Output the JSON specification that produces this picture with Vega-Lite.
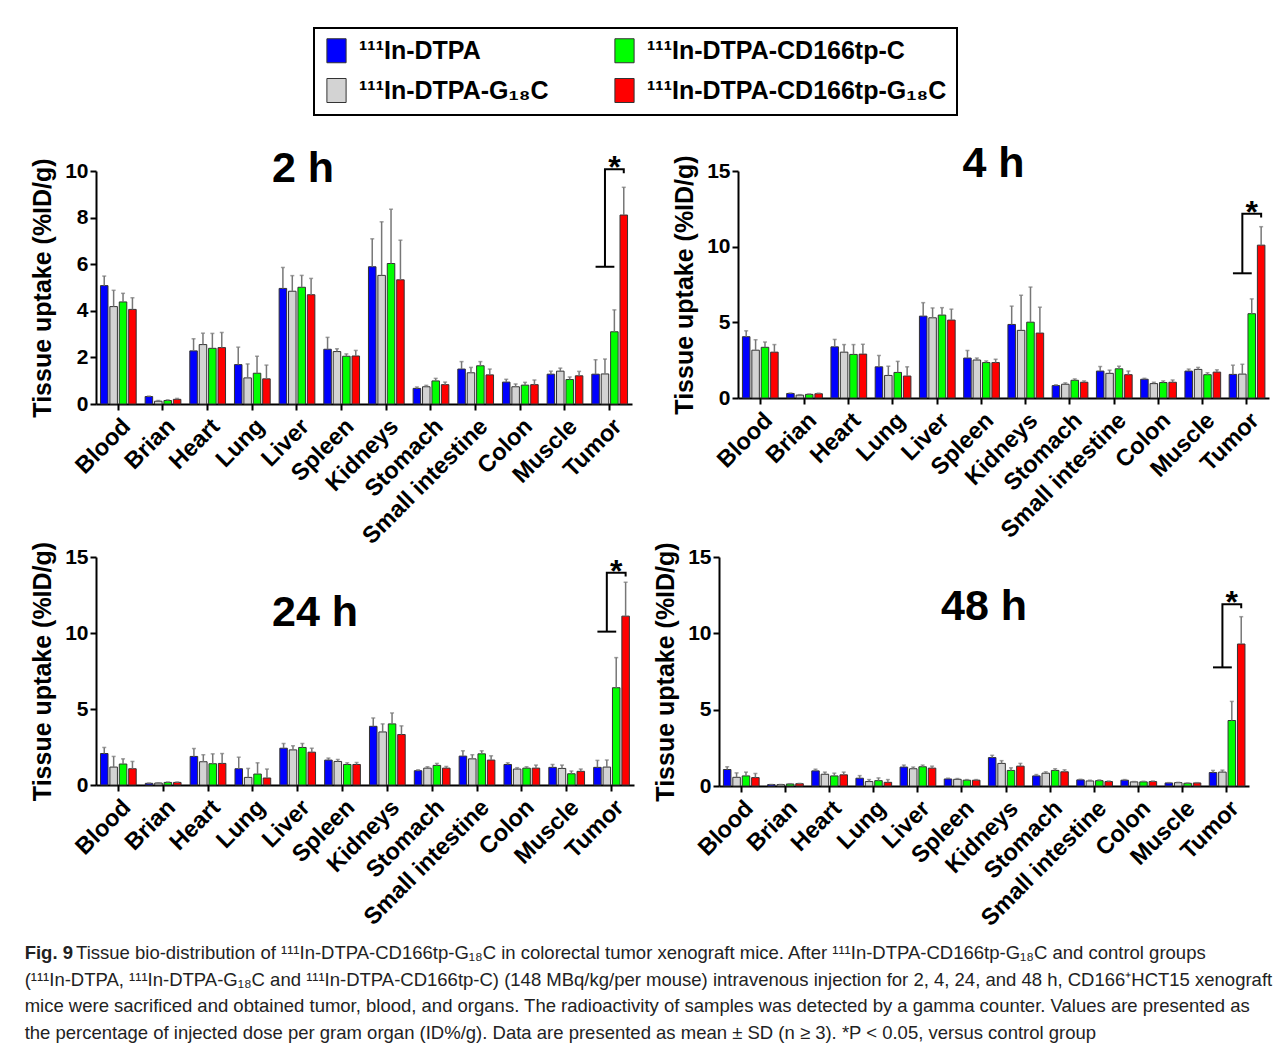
{
  "$schema": "https://vega.github.io/schema/vega-lite/v6.json",
  "padding": {"left": 24, "top": 27, "right": 5, "bottom": 5},
  "background": "white",
  "bounds": "flush",
  "spacing": 386,
  "title": {
    "text": "Fig. 9",
    "subtitle": [
      "\u200b\u00a0\u00a0\u00a0\u00a0\u00a0\u00a0\u00a0\u00a0\u00a0\u00a0Tissue bio-distribution of ¹¹¹In-DTPA-CD166tp-G₁₈C in colorectal tumor xenograft mice. After ¹¹¹In-DTPA-CD166tp-G₁₈C and control groups",
      "(¹¹¹In-DTPA, ¹¹¹In-DTPA-G₁₈C and ¹¹¹In-DTPA-CD166tp-C) (148 MBq/kg/per mouse) intravenous injection for 2, 4, 24, and 48 h, CD166⁺HCT15 xenograft",
      "mice were sacrificed and obtained tumor, blood, and organs. The radioactivity of samples was detected by a gamma counter. Values are presented as",
      "the percentage of injected dose per gram organ (ID%/g). Data are presented as mean ± SD (n ≥ 3). *P < 0.05, versus control group"
    ],
    "orient": "bottom",
    "anchor": "start",
    "frame": "bounds",
    "offset": 14,
    "dx": -6,
    "font": "Liberation Sans",
    "fontSize": 18.5,
    "fontWeight": "bold",
    "color": "#222222",
    "subtitleFont": "Liberation Sans",
    "subtitleFontSize": 18.5,
    "subtitleFontWeight": "normal",
    "subtitleColor": "#222222",
    "subtitleLineHeight": 26.7,
    "subtitlePadding": -18.5
  },
  "datasets": {
    "uptake": [
      {"time":"2 h","organ":"Blood","group":"¹¹¹In-DTPA","mean":5.08,"upper":5.49},
      {"time":"2 h","organ":"Blood","group":"¹¹¹In-DTPA-G₁₈C","mean":4.18,"upper":4.88},
      {"time":"2 h","organ":"Blood","group":"¹¹¹In-DTPA-CD166tp-C","mean":4.38,"upper":4.75},
      {"time":"2 h","organ":"Blood","group":"¹¹¹In-DTPA-CD166tp-G₁₈C","mean":4.06,"upper":4.56},
      {"time":"2 h","organ":"Brian","group":"¹¹¹In-DTPA","mean":0.32,"upper":0.34},
      {"time":"2 h","organ":"Brian","group":"¹¹¹In-DTPA-G₁₈C","mean":0.12,"upper":0.15},
      {"time":"2 h","organ":"Brian","group":"¹¹¹In-DTPA-CD166tp-C","mean":0.15,"upper":0.18},
      {"time":"2 h","organ":"Brian","group":"¹¹¹In-DTPA-CD166tp-G₁₈C","mean":0.2,"upper":0.24},
      {"time":"2 h","organ":"Heart","group":"¹¹¹In-DTPA","mean":2.28,"upper":2.8},
      {"time":"2 h","organ":"Heart","group":"¹¹¹In-DTPA-G₁₈C","mean":2.55,"upper":3.04},
      {"time":"2 h","organ":"Heart","group":"¹¹¹In-DTPA-CD166tp-C","mean":2.39,"upper":3.03},
      {"time":"2 h","organ":"Heart","group":"¹¹¹In-DTPA-CD166tp-G₁₈C","mean":2.42,"upper":3.07},
      {"time":"2 h","organ":"Lung","group":"¹¹¹In-DTPA","mean":1.69,"upper":2.44},
      {"time":"2 h","organ":"Lung","group":"¹¹¹In-DTPA-G₁₈C","mean":1.12,"upper":1.72},
      {"time":"2 h","organ":"Lung","group":"¹¹¹In-DTPA-CD166tp-C","mean":1.32,"upper":2.05},
      {"time":"2 h","organ":"Lung","group":"¹¹¹In-DTPA-CD166tp-G₁₈C","mean":1.08,"upper":1.67},
      {"time":"2 h","organ":"Liver","group":"¹¹¹In-DTPA","mean":4.96,"upper":5.86},
      {"time":"2 h","organ":"Liver","group":"¹¹¹In-DTPA-G₁₈C","mean":4.84,"upper":5.51},
      {"time":"2 h","organ":"Liver","group":"¹¹¹In-DTPA-CD166tp-C","mean":5.01,"upper":5.52},
      {"time":"2 h","organ":"Liver","group":"¹¹¹In-DTPA-CD166tp-G₁₈C","mean":4.69,"upper":5.39},
      {"time":"2 h","organ":"Spleen","group":"¹¹¹In-DTPA","mean":2.35,"upper":2.86},
      {"time":"2 h","organ":"Spleen","group":"¹¹¹In-DTPA-G₁₈C","mean":2.25,"upper":2.37},
      {"time":"2 h","organ":"Spleen","group":"¹¹¹In-DTPA-CD166tp-C","mean":2.05,"upper":2.15},
      {"time":"2 h","organ":"Spleen","group":"¹¹¹In-DTPA-CD166tp-G₁₈C","mean":2.06,"upper":2.3},
      {"time":"2 h","organ":"Kidneys","group":"¹¹¹In-DTPA","mean":5.89,"upper":7.09},
      {"time":"2 h","organ":"Kidneys","group":"¹¹¹In-DTPA-G₁₈C","mean":5.52,"upper":7.82},
      {"time":"2 h","organ":"Kidneys","group":"¹¹¹In-DTPA-CD166tp-C","mean":6.03,"upper":8.36},
      {"time":"2 h","organ":"Kidneys","group":"¹¹¹In-DTPA-CD166tp-G₁₈C","mean":5.33,"upper":7.03},
      {"time":"2 h","organ":"Stomach","group":"¹¹¹In-DTPA","mean":0.67,"upper":0.73},
      {"time":"2 h","organ":"Stomach","group":"¹¹¹In-DTPA-G₁₈C","mean":0.74,"upper":0.8},
      {"time":"2 h","organ":"Stomach","group":"¹¹¹In-DTPA-CD166tp-C","mean":0.99,"upper":1.1},
      {"time":"2 h","organ":"Stomach","group":"¹¹¹In-DTPA-CD166tp-G₁₈C","mean":0.83,"upper":0.94},
      {"time":"2 h","organ":"Small intestine","group":"¹¹¹In-DTPA","mean":1.5,"upper":1.82},
      {"time":"2 h","organ":"Small intestine","group":"¹¹¹In-DTPA-G₁₈C","mean":1.34,"upper":1.57},
      {"time":"2 h","organ":"Small intestine","group":"¹¹¹In-DTPA-CD166tp-C","mean":1.64,"upper":1.82},
      {"time":"2 h","organ":"Small intestine","group":"¹¹¹In-DTPA-CD166tp-G₁₈C","mean":1.25,"upper":1.5},
      {"time":"2 h","organ":"Colon","group":"¹¹¹In-DTPA","mean":0.94,"upper":1.06},
      {"time":"2 h","organ":"Colon","group":"¹¹¹In-DTPA-G₁₈C","mean":0.74,"upper":0.86},
      {"time":"2 h","organ":"Colon","group":"¹¹¹In-DTPA-CD166tp-C","mean":0.81,"upper":0.93},
      {"time":"2 h","organ":"Colon","group":"¹¹¹In-DTPA-CD166tp-G₁₈C","mean":0.83,"upper":1.03},
      {"time":"2 h","organ":"Muscle","group":"¹¹¹In-DTPA","mean":1.28,"upper":1.41},
      {"time":"2 h","organ":"Muscle","group":"¹¹¹In-DTPA-G₁₈C","mean":1.41,"upper":1.54},
      {"time":"2 h","organ":"Muscle","group":"¹¹¹In-DTPA-CD166tp-C","mean":1.05,"upper":1.16},
      {"time":"2 h","organ":"Muscle","group":"¹¹¹In-DTPA-CD166tp-G₁₈C","mean":1.21,"upper":1.4},
      {"time":"2 h","organ":"Tumor","group":"¹¹¹In-DTPA","mean":1.28,"upper":1.9},
      {"time":"2 h","organ":"Tumor","group":"¹¹¹In-DTPA-G₁₈C","mean":1.29,"upper":1.93},
      {"time":"2 h","organ":"Tumor","group":"¹¹¹In-DTPA-CD166tp-C","mean":3.1,"upper":4.04},
      {"time":"2 h","organ":"Tumor","group":"¹¹¹In-DTPA-CD166tp-G₁₈C","mean":8.11,"upper":9.3},

      {"time":"4 h","organ":"Blood","group":"¹¹¹In-DTPA","mean":4.05,"upper":4.44},
      {"time":"4 h","organ":"Blood","group":"¹¹¹In-DTPA-G₁₈C","mean":3.16,"upper":3.85},
      {"time":"4 h","organ":"Blood","group":"¹¹¹In-DTPA-CD166tp-C","mean":3.35,"upper":3.7},
      {"time":"4 h","organ":"Blood","group":"¹¹¹In-DTPA-CD166tp-G₁₈C","mean":3.03,"upper":3.53},
      {"time":"4 h","organ":"Brian","group":"¹¹¹In-DTPA","mean":0.3,"upper":0.33},
      {"time":"4 h","organ":"Brian","group":"¹¹¹In-DTPA-G₁₈C","mean":0.19,"upper":0.22},
      {"time":"4 h","organ":"Brian","group":"¹¹¹In-DTPA-CD166tp-C","mean":0.24,"upper":0.27},
      {"time":"4 h","organ":"Brian","group":"¹¹¹In-DTPA-CD166tp-G₁₈C","mean":0.28,"upper":0.32},
      {"time":"4 h","organ":"Heart","group":"¹¹¹In-DTPA","mean":3.38,"upper":3.87},
      {"time":"4 h","organ":"Heart","group":"¹¹¹In-DTPA-G₁₈C","mean":3.03,"upper":3.53},
      {"time":"4 h","organ":"Heart","group":"¹¹¹In-DTPA-CD166tp-C","mean":2.88,"upper":3.53},
      {"time":"4 h","organ":"Heart","group":"¹¹¹In-DTPA-CD166tp-G₁₈C","mean":2.9,"upper":3.55},
      {"time":"4 h","organ":"Lung","group":"¹¹¹In-DTPA","mean":2.06,"upper":2.81},
      {"time":"4 h","organ":"Lung","group":"¹¹¹In-DTPA-G₁₈C","mean":1.49,"upper":2.1},
      {"time":"4 h","organ":"Lung","group":"¹¹¹In-DTPA-CD166tp-C","mean":1.69,"upper":2.42},
      {"time":"4 h","organ":"Lung","group":"¹¹¹In-DTPA-CD166tp-G₁₈C","mean":1.45,"upper":2.06},
      {"time":"4 h","organ":"Liver","group":"¹¹¹In-DTPA","mean":5.41,"upper":6.3},
      {"time":"4 h","organ":"Liver","group":"¹¹¹In-DTPA-G₁₈C","mean":5.3,"upper":5.95},
      {"time":"4 h","organ":"Liver","group":"¹¹¹In-DTPA-CD166tp-C","mean":5.48,"upper":5.97},
      {"time":"4 h","organ":"Liver","group":"¹¹¹In-DTPA-CD166tp-G₁₈C","mean":5.15,"upper":5.87},
      {"time":"4 h","organ":"Spleen","group":"¹¹¹In-DTPA","mean":2.64,"upper":3.14},
      {"time":"4 h","organ":"Spleen","group":"¹¹¹In-DTPA-G₁₈C","mean":2.51,"upper":2.64},
      {"time":"4 h","organ":"Spleen","group":"¹¹¹In-DTPA-CD166tp-C","mean":2.34,"upper":2.45},
      {"time":"4 h","organ":"Spleen","group":"¹¹¹In-DTPA-CD166tp-G₁₈C","mean":2.34,"upper":2.56},
      {"time":"4 h","organ":"Kidneys","group":"¹¹¹In-DTPA","mean":4.86,"upper":6.07},
      {"time":"4 h","organ":"Kidneys","group":"¹¹¹In-DTPA-G₁₈C","mean":4.47,"upper":6.79},
      {"time":"4 h","organ":"Kidneys","group":"¹¹¹In-DTPA-CD166tp-C","mean":5.01,"upper":7.33},
      {"time":"4 h","organ":"Kidneys","group":"¹¹¹In-DTPA-CD166tp-G₁₈C","mean":4.29,"upper":6.0},
      {"time":"4 h","organ":"Stomach","group":"¹¹¹In-DTPA","mean":0.82,"upper":0.87},
      {"time":"4 h","organ":"Stomach","group":"¹¹¹In-DTPA-G₁₈C","mean":0.91,"upper":1.0},
      {"time":"4 h","organ":"Stomach","group":"¹¹¹In-DTPA-CD166tp-C","mean":1.17,"upper":1.26},
      {"time":"4 h","organ":"Stomach","group":"¹¹¹In-DTPA-CD166tp-G₁₈C","mean":1.04,"upper":1.13},
      {"time":"4 h","organ":"Small intestine","group":"¹¹¹In-DTPA","mean":1.78,"upper":2.08},
      {"time":"4 h","organ":"Small intestine","group":"¹¹¹In-DTPA-G₁₈C","mean":1.63,"upper":1.84},
      {"time":"4 h","organ":"Small intestine","group":"¹¹¹In-DTPA-CD166tp-C","mean":1.93,"upper":2.1},
      {"time":"4 h","organ":"Small intestine","group":"¹¹¹In-DTPA-CD166tp-G₁₈C","mean":1.54,"upper":1.78},
      {"time":"4 h","organ":"Colon","group":"¹¹¹In-DTPA","mean":1.24,"upper":1.3},
      {"time":"4 h","organ":"Colon","group":"¹¹¹In-DTPA-G₁₈C","mean":0.95,"upper":1.04},
      {"time":"4 h","organ":"Colon","group":"¹¹¹In-DTPA-CD166tp-C","mean":1.02,"upper":1.13},
      {"time":"4 h","organ":"Colon","group":"¹¹¹In-DTPA-CD166tp-G₁₈C","mean":1.04,"upper":1.19},
      {"time":"4 h","organ":"Muscle","group":"¹¹¹In-DTPA","mean":1.78,"upper":1.91},
      {"time":"4 h","organ":"Muscle","group":"¹¹¹In-DTPA-G₁₈C","mean":1.89,"upper":2.02},
      {"time":"4 h","organ":"Muscle","group":"¹¹¹In-DTPA-CD166tp-C","mean":1.54,"upper":1.67},
      {"time":"4 h","organ":"Muscle","group":"¹¹¹In-DTPA-CD166tp-G₁₈C","mean":1.71,"upper":1.86},
      {"time":"4 h","organ":"Tumor","group":"¹¹¹In-DTPA","mean":1.56,"upper":2.17},
      {"time":"4 h","organ":"Tumor","group":"¹¹¹In-DTPA-G₁₈C","mean":1.58,"upper":2.23},
      {"time":"4 h","organ":"Tumor","group":"¹¹¹In-DTPA-CD166tp-C","mean":5.57,"upper":6.55},
      {"time":"4 h","organ":"Tumor","group":"¹¹¹In-DTPA-CD166tp-G₁₈C","mean":10.1,"upper":11.32},

      {"time":"24 h","organ":"Blood","group":"¹¹¹In-DTPA","mean":2.07,"upper":2.47},
      {"time":"24 h","organ":"Blood","group":"¹¹¹In-DTPA-G₁₈C","mean":1.18,"upper":1.88},
      {"time":"24 h","organ":"Blood","group":"¹¹¹In-DTPA-CD166tp-C","mean":1.38,"upper":1.72},
      {"time":"24 h","organ":"Blood","group":"¹¹¹In-DTPA-CD166tp-G₁₈C","mean":1.07,"upper":1.55},
      {"time":"24 h","organ":"Brian","group":"¹¹¹In-DTPA","mean":0.11,"upper":0.13},
      {"time":"24 h","organ":"Brian","group":"¹¹¹In-DTPA-G₁₈C","mean":0.13,"upper":0.15},
      {"time":"24 h","organ":"Brian","group":"¹¹¹In-DTPA-CD166tp-C","mean":0.17,"upper":0.2},
      {"time":"24 h","organ":"Brian","group":"¹¹¹In-DTPA-CD166tp-G₁₈C","mean":0.17,"upper":0.2},
      {"time":"24 h","organ":"Heart","group":"¹¹¹In-DTPA","mean":1.88,"upper":2.4},
      {"time":"24 h","organ":"Heart","group":"¹¹¹In-DTPA-G₁₈C","mean":1.53,"upper":1.99},
      {"time":"24 h","organ":"Heart","group":"¹¹¹In-DTPA-CD166tp-C","mean":1.4,"upper":2.05},
      {"time":"24 h","organ":"Heart","group":"¹¹¹In-DTPA-CD166tp-G₁₈C","mean":1.42,"upper":2.07},
      {"time":"24 h","organ":"Lung","group":"¹¹¹In-DTPA","mean":1.07,"upper":1.83},
      {"time":"24 h","organ":"Lung","group":"¹¹¹In-DTPA-G₁₈C","mean":0.5,"upper":1.09},
      {"time":"24 h","organ":"Lung","group":"¹¹¹In-DTPA-CD166tp-C","mean":0.72,"upper":1.46},
      {"time":"24 h","organ":"Lung","group":"¹¹¹In-DTPA-CD166tp-G₁₈C","mean":0.46,"upper":1.05},
      {"time":"24 h","organ":"Liver","group":"¹¹¹In-DTPA","mean":2.42,"upper":2.73},
      {"time":"24 h","organ":"Liver","group":"¹¹¹In-DTPA-G₁₈C","mean":2.31,"upper":2.58},
      {"time":"24 h","organ":"Liver","group":"¹¹¹In-DTPA-CD166tp-C","mean":2.47,"upper":2.73},
      {"time":"24 h","organ":"Liver","group":"¹¹¹In-DTPA-CD166tp-G₁₈C","mean":2.16,"upper":2.42},
      {"time":"24 h","organ":"Spleen","group":"¹¹¹In-DTPA","mean":1.64,"upper":1.77},
      {"time":"24 h","organ":"Spleen","group":"¹¹¹In-DTPA-G₁₈C","mean":1.55,"upper":1.68},
      {"time":"24 h","organ":"Spleen","group":"¹¹¹In-DTPA-CD166tp-C","mean":1.35,"upper":1.46},
      {"time":"24 h","organ":"Spleen","group":"¹¹¹In-DTPA-CD166tp-G₁₈C","mean":1.35,"upper":1.48},
      {"time":"24 h","organ":"Kidneys","group":"¹¹¹In-DTPA","mean":3.86,"upper":4.41},
      {"time":"24 h","organ":"Kidneys","group":"¹¹¹In-DTPA-G₁₈C","mean":3.49,"upper":4.02},
      {"time":"24 h","organ":"Kidneys","group":"¹¹¹In-DTPA-CD166tp-C","mean":4.02,"upper":4.74},
      {"time":"24 h","organ":"Kidneys","group":"¹¹¹In-DTPA-CD166tp-G₁₈C","mean":3.32,"upper":3.89},
      {"time":"24 h","organ":"Stomach","group":"¹¹¹In-DTPA","mean":0.94,"upper":1.0},
      {"time":"24 h","organ":"Stomach","group":"¹¹¹In-DTPA-G₁₈C","mean":1.11,"upper":1.2},
      {"time":"24 h","organ":"Stomach","group":"¹¹¹In-DTPA-CD166tp-C","mean":1.29,"upper":1.42},
      {"time":"24 h","organ":"Stomach","group":"¹¹¹In-DTPA-CD166tp-G₁₈C","mean":1.11,"upper":1.22},
      {"time":"24 h","organ":"Small intestine","group":"¹¹¹In-DTPA","mean":1.9,"upper":2.25},
      {"time":"24 h","organ":"Small intestine","group":"¹¹¹In-DTPA-G₁₈C","mean":1.72,"upper":1.99},
      {"time":"24 h","organ":"Small intestine","group":"¹¹¹In-DTPA-CD166tp-C","mean":2.05,"upper":2.25},
      {"time":"24 h","organ":"Small intestine","group":"¹¹¹In-DTPA-CD166tp-G₁₈C","mean":1.64,"upper":1.92},
      {"time":"24 h","organ":"Colon","group":"¹¹¹In-DTPA","mean":1.35,"upper":1.46},
      {"time":"24 h","organ":"Colon","group":"¹¹¹In-DTPA-G₁₈C","mean":1.05,"upper":1.14},
      {"time":"24 h","organ":"Colon","group":"¹¹¹In-DTPA-CD166tp-C","mean":1.11,"upper":1.2},
      {"time":"24 h","organ":"Colon","group":"¹¹¹In-DTPA-CD166tp-G₁₈C","mean":1.11,"upper":1.31},
      {"time":"24 h","organ":"Muscle","group":"¹¹¹In-DTPA","mean":1.16,"upper":1.35},
      {"time":"24 h","organ":"Muscle","group":"¹¹¹In-DTPA-G₁₈C","mean":1.09,"upper":1.31},
      {"time":"24 h","organ":"Muscle","group":"¹¹¹In-DTPA-CD166tp-C","mean":0.74,"upper":0.92},
      {"time":"24 h","organ":"Muscle","group":"¹¹¹In-DTPA-CD166tp-G₁₈C","mean":0.9,"upper":1.05},
      {"time":"24 h","organ":"Tumor","group":"¹¹¹In-DTPA","mean":1.16,"upper":1.62},
      {"time":"24 h","organ":"Tumor","group":"¹¹¹In-DTPA-G₁₈C","mean":1.18,"upper":1.64},
      {"time":"24 h","organ":"Tumor","group":"¹¹¹In-DTPA-CD166tp-C","mean":6.4,"upper":8.38},
      {"time":"24 h","organ":"Tumor","group":"¹¹¹In-DTPA-CD166tp-G₁₈C","mean":11.11,"upper":13.34},

      {"time":"48 h","organ":"Blood","group":"¹¹¹In-DTPA","mean":1.08,"upper":1.26},
      {"time":"48 h","organ":"Blood","group":"¹¹¹In-DTPA-G₁₈C","mean":0.57,"upper":0.86},
      {"time":"48 h","organ":"Blood","group":"¹¹¹In-DTPA-CD166tp-C","mean":0.66,"upper":0.91},
      {"time":"48 h","organ":"Blood","group":"¹¹¹In-DTPA-CD166tp-G₁₈C","mean":0.55,"upper":0.82},
      {"time":"48 h","organ":"Brian","group":"¹¹¹In-DTPA","mean":0.09,"upper":0.1},
      {"time":"48 h","organ":"Brian","group":"¹¹¹In-DTPA-G₁₈C","mean":0.09,"upper":0.1},
      {"time":"48 h","organ":"Brian","group":"¹¹¹In-DTPA-CD166tp-C","mean":0.13,"upper":0.15},
      {"time":"48 h","organ":"Brian","group":"¹¹¹In-DTPA-CD166tp-G₁₈C","mean":0.15,"upper":0.17},
      {"time":"48 h","organ":"Heart","group":"¹¹¹In-DTPA","mean":0.99,"upper":1.1},
      {"time":"48 h","organ":"Heart","group":"¹¹¹In-DTPA-G₁₈C","mean":0.77,"upper":0.91},
      {"time":"48 h","organ":"Heart","group":"¹¹¹In-DTPA-CD166tp-C","mean":0.66,"upper":0.84},
      {"time":"48 h","organ":"Heart","group":"¹¹¹In-DTPA-CD166tp-G₁₈C","mean":0.73,"upper":0.91},
      {"time":"48 h","organ":"Lung","group":"¹¹¹In-DTPA","mean":0.51,"upper":0.68},
      {"time":"48 h","organ":"Lung","group":"¹¹¹In-DTPA-G₁₈C","mean":0.29,"upper":0.42},
      {"time":"48 h","organ":"Lung","group":"¹¹¹In-DTPA-CD166tp-C","mean":0.35,"upper":0.53},
      {"time":"48 h","organ":"Lung","group":"¹¹¹In-DTPA-CD166tp-G₁₈C","mean":0.24,"upper":0.42},
      {"time":"48 h","organ":"Liver","group":"¹¹¹In-DTPA","mean":1.24,"upper":1.37},
      {"time":"48 h","organ":"Liver","group":"¹¹¹In-DTPA-G₁₈C","mean":1.13,"upper":1.24},
      {"time":"48 h","organ":"Liver","group":"¹¹¹In-DTPA-CD166tp-C","mean":1.26,"upper":1.37},
      {"time":"48 h","organ":"Liver","group":"¹¹¹In-DTPA-CD166tp-G₁₈C","mean":1.17,"upper":1.3},
      {"time":"48 h","organ":"Spleen","group":"¹¹¹In-DTPA","mean":0.46,"upper":0.51},
      {"time":"48 h","organ":"Spleen","group":"¹¹¹In-DTPA-G₁₈C","mean":0.44,"upper":0.49},
      {"time":"48 h","organ":"Spleen","group":"¹¹¹In-DTPA-CD166tp-C","mean":0.38,"upper":0.42},
      {"time":"48 h","organ":"Spleen","group":"¹¹¹In-DTPA-CD166tp-G₁₈C","mean":0.38,"upper":0.42},
      {"time":"48 h","organ":"Kidneys","group":"¹¹¹In-DTPA","mean":1.86,"upper":2.01},
      {"time":"48 h","organ":"Kidneys","group":"¹¹¹In-DTPA-G₁₈C","mean":1.48,"upper":1.66},
      {"time":"48 h","organ":"Kidneys","group":"¹¹¹In-DTPA-CD166tp-C","mean":1.02,"upper":1.19},
      {"time":"48 h","organ":"Kidneys","group":"¹¹¹In-DTPA-CD166tp-G₁₈C","mean":1.3,"upper":1.48},
      {"time":"48 h","organ":"Stomach","group":"¹¹¹In-DTPA","mean":0.66,"upper":0.75},
      {"time":"48 h","organ":"Stomach","group":"¹¹¹In-DTPA-G₁₈C","mean":0.84,"upper":0.93},
      {"time":"48 h","organ":"Stomach","group":"¹¹¹In-DTPA-CD166tp-C","mean":1.02,"upper":1.13},
      {"time":"48 h","organ":"Stomach","group":"¹¹¹In-DTPA-CD166tp-G₁₈C","mean":0.93,"upper":1.06},
      {"time":"48 h","organ":"Small intestine","group":"¹¹¹In-DTPA","mean":0.4,"upper":0.44},
      {"time":"48 h","organ":"Small intestine","group":"¹¹¹In-DTPA-G₁₈C","mean":0.33,"upper":0.38},
      {"time":"48 h","organ":"Small intestine","group":"¹¹¹In-DTPA-CD166tp-C","mean":0.35,"upper":0.4},
      {"time":"48 h","organ":"Small intestine","group":"¹¹¹In-DTPA-CD166tp-G₁₈C","mean":0.29,"upper":0.33},
      {"time":"48 h","organ":"Colon","group":"¹¹¹In-DTPA","mean":0.38,"upper":0.42},
      {"time":"48 h","organ":"Colon","group":"¹¹¹In-DTPA-G₁₈C","mean":0.27,"upper":0.29},
      {"time":"48 h","organ":"Colon","group":"¹¹¹In-DTPA-CD166tp-C","mean":0.27,"upper":0.31},
      {"time":"48 h","organ":"Colon","group":"¹¹¹In-DTPA-CD166tp-G₁₈C","mean":0.29,"upper":0.33},
      {"time":"48 h","organ":"Muscle","group":"¹¹¹In-DTPA","mean":0.2,"upper":0.22},
      {"time":"48 h","organ":"Muscle","group":"¹¹¹In-DTPA-G₁₈C","mean":0.22,"upper":0.24},
      {"time":"48 h","organ":"Muscle","group":"¹¹¹In-DTPA-CD166tp-C","mean":0.18,"upper":0.2},
      {"time":"48 h","organ":"Muscle","group":"¹¹¹In-DTPA-CD166tp-G₁₈C","mean":0.2,"upper":0.22},
      {"time":"48 h","organ":"Tumor","group":"¹¹¹In-DTPA","mean":0.88,"upper":1.02},
      {"time":"48 h","organ":"Tumor","group":"¹¹¹In-DTPA-G₁₈C","mean":0.91,"upper":1.04},
      {"time":"48 h","organ":"Tumor","group":"¹¹¹In-DTPA-CD166tp-C","mean":4.29,"upper":5.54},
      {"time":"48 h","organ":"Tumor","group":"¹¹¹In-DTPA-CD166tp-G₁₈C","mean":9.3,"upper":11.09}
    ],
    "brackets": [
      {"time":"2 h","seg":"a","seq":1,"organ":"Tumor","group":"¹¹¹In-DTPA","level":5.89},
      {"time":"2 h","seg":"a","seq":2,"organ":"Tumor","group":"¹¹¹In-DTPA-CD166tp-C","level":5.89},
      {"time":"2 h","seg":"b","seq":1,"organ":"Tumor","group":"¹¹¹In-DTPA-G₁₈C","level":5.89},
      {"time":"2 h","seg":"b","seq":2,"organ":"Tumor","group":"¹¹¹In-DTPA-G₁₈C","level":10.07},
      {"time":"2 h","seg":"b","seq":3,"organ":"Tumor","group":"¹¹¹In-DTPA-CD166tp-G₁₈C","level":10.07},
      {"time":"2 h","seg":"b","seq":4,"organ":"Tumor","group":"¹¹¹In-DTPA-CD166tp-G₁₈C","level":9.9},
      {"time":"4 h","seg":"a","seq":1,"organ":"Tumor","group":"¹¹¹In-DTPA","level":8.24},
      {"time":"4 h","seg":"a","seq":2,"organ":"Tumor","group":"¹¹¹In-DTPA-CD166tp-C","level":8.24},
      {"time":"4 h","seg":"b","seq":1,"organ":"Tumor","group":"¹¹¹In-DTPA-G₁₈C","level":8.24},
      {"time":"4 h","seg":"b","seq":2,"organ":"Tumor","group":"¹¹¹In-DTPA-G₁₈C","level":12.18},
      {"time":"4 h","seg":"b","seq":3,"organ":"Tumor","group":"¹¹¹In-DTPA-CD166tp-G₁₈C","level":12.18},
      {"time":"4 h","seg":"b","seq":4,"organ":"Tumor","group":"¹¹¹In-DTPA-CD166tp-G₁₈C","level":11.92},
      {"time":"24 h","seg":"a","seq":1,"organ":"Tumor","group":"¹¹¹In-DTPA","level":10.09},
      {"time":"24 h","seg":"a","seq":2,"organ":"Tumor","group":"¹¹¹In-DTPA-CD166tp-C","level":10.09},
      {"time":"24 h","seg":"b","seq":1,"organ":"Tumor","group":"¹¹¹In-DTPA-G₁₈C","level":10.09},
      {"time":"24 h","seg":"b","seq":2,"organ":"Tumor","group":"¹¹¹In-DTPA-G₁₈C","level":13.97},
      {"time":"24 h","seg":"b","seq":3,"organ":"Tumor","group":"¹¹¹In-DTPA-CD166tp-G₁₈C","level":13.97},
      {"time":"24 h","seg":"b","seq":4,"organ":"Tumor","group":"¹¹¹In-DTPA-CD166tp-G₁₈C","level":13.72},
      {"time":"48 h","seg":"a","seq":1,"organ":"Tumor","group":"¹¹¹In-DTPA","level":7.77},
      {"time":"48 h","seg":"a","seq":2,"organ":"Tumor","group":"¹¹¹In-DTPA-CD166tp-C","level":7.77},
      {"time":"48 h","seg":"b","seq":1,"organ":"Tumor","group":"¹¹¹In-DTPA-G₁₈C","level":7.77},
      {"time":"48 h","seg":"b","seq":2,"organ":"Tumor","group":"¹¹¹In-DTPA-G₁₈C","level":11.9},
      {"time":"48 h","seg":"b","seq":3,"organ":"Tumor","group":"¹¹¹In-DTPA-CD166tp-G₁₈C","level":11.9},
      {"time":"48 h","seg":"b","seq":4,"organ":"Tumor","group":"¹¹¹In-DTPA-CD166tp-G₁₈C","level":11.65}
    ],
    "stars": [
      {"time":"2 h","organ":"Tumor","group":"¹¹¹In-DTPA-CD166tp-C","level":10.07,"label":"*"},
      {"time":"4 h","organ":"Tumor","group":"¹¹¹In-DTPA-CD166tp-C","level":12.18,"label":"*"},
      {"time":"24 h","organ":"Tumor","group":"¹¹¹In-DTPA-CD166tp-C","level":13.97,"label":"*"},
      {"time":"48 h","organ":"Tumor","group":"¹¹¹In-DTPA-CD166tp-C","level":11.9,"label":"*"}
    ]
  },
  "vconcat": [
    {
      "bounds": "flush",
      "spacing": 106,
      "hconcat": [
        {
          "width": 536, "height": 233,
          "title": {"text": "2 h", "font": "Liberation Sans", "fontSize": 43, "fontWeight": "bold", "color": "black", "anchor": "middle", "frame": "group", "baseline": "alphabetic", "dx": -61, "offset": -73},
          "layer": [
            {
              "data": {"name": "uptake"},
              "transform": [{"filter": "datum.time === '2 h'"}],
              "mark": {"type": "bar", "stroke": "#333333", "strokeWidth": 1},
              "encoding": {
                "x": {"field": "organ", "type": "nominal", "title": null,
                      "scale": {"domain": ["Blood","Brian","Heart","Lung","Liver","Spleen","Kidneys","Stomach","Small intestine","Colon","Muscle","Tumor"], "paddingInner": 0.2, "paddingOuter": 0.1},
                      "axis": {"labelAngle": -45}},
                "xOffset": {"field": "group", "type": "nominal", "scale": {"domain": ["¹¹¹In-DTPA","¹¹¹In-DTPA-G₁₈C","¹¹¹In-DTPA-CD166tp-C","¹¹¹In-DTPA-CD166tp-G₁₈C"], "paddingInner": 0.2}},
                "y": {"field": "mean", "type": "quantitative", "title": "Tissue uptake (%ID/g)", "scale": {"domain": [0, 10], "nice": false}, "axis": {"values": [0, 2, 4, 6, 8, 10]}},
                "color": {"field": "group", "type": "nominal",
                          "scale": {"domain": ["¹¹¹In-DTPA","¹¹¹In-DTPA-G₁₈C","¹¹¹In-DTPA-CD166tp-C","¹¹¹In-DTPA-CD166tp-G₁₈C"], "range": ["#0000ff","#d3d3d3","#00ff00","#ff0000"]},
                          "legend": {"orient": "none", "legendX": 218, "legendY": -143, "columns": 2, "title": null,
                                     "symbolType": "M-0.8,-1L0.8,-1L0.8,1L-0.8,1Z", "symbolSize": 576, "symbolStrokeColor": "#333333", "symbolStrokeWidth": 1, "symbolOpacity": 1,
                                     "labelFont": "Liberation Sans", "labelFontSize": 25, "labelFontWeight": "bold", "labelColor": "black", "labelLimit": 500, "labelOffset": 10,
                                     "columnPadding": 63, "rowPadding": 11, "padding": 10, "strokeColor": "black"}}
              }
            },
            {
              "data": {"name": "uptake"},
              "transform": [{"filter": "datum.time === '2 h'"}],
              "mark": {"type": "rule", "color": "#777777", "strokeWidth": 1.5},
              "encoding": {
                "x": {"field": "organ", "type": "nominal", "title": null},
                "xOffset": {"field": "group", "type": "nominal"},
                "y": {"field": "mean", "type": "quantitative", "title": "Tissue uptake (%ID/g)"},
                "y2": {"field": "upper"}
              }
            },
            {
              "data": {"name": "uptake"},
              "transform": [{"filter": "datum.time === '2 h'"}],
              "mark": {"type": "tick", "color": "#777777", "thickness": 1.5, "size": 4},
              "encoding": {
                "x": {"field": "organ", "type": "nominal", "title": null},
                "xOffset": {"field": "group", "type": "nominal"},
                "y": {"field": "upper", "type": "quantitative", "title": "Tissue uptake (%ID/g)"}
              }
            },
            {
              "data": {"name": "brackets"},
              "transform": [{"filter": "datum.time === '2 h'"}],
              "mark": {"type": "line", "color": "black", "strokeWidth": 2},
              "encoding": {
                "x": {"field": "organ", "type": "nominal", "title": null},
                "xOffset": {"field": "group", "type": "nominal"},
                "y": {"field": "level", "type": "quantitative", "title": "Tissue uptake (%ID/g)"},
                "detail": {"field": "seg"},
                "order": {"field": "seq", "type": "quantitative"}
              }
            },
            {
              "data": {"name": "stars"},
              "transform": [{"filter": "datum.time === '2 h'"}],
              "mark": {"type": "text", "font": "Liberation Sans", "fontSize": 32, "fontWeight": "bold", "color": "black", "baseline": "alphabetic", "dy": 9},
              "encoding": {
                "x": {"field": "organ", "type": "nominal", "title": null},
                "xOffset": {"field": "group", "type": "nominal"},
                "y": {"field": "level", "type": "quantitative", "title": "Tissue uptake (%ID/g)"},
                "text": {"field": "label"}
              }
            }
          ]
        },
        {
          "width": 531, "height": 227,
          "title": {"text": "4 h", "font": "Liberation Sans", "fontSize": 43, "fontWeight": "bold", "color": "black", "anchor": "middle", "frame": "group", "baseline": "alphabetic", "dx": -10, "offset": -65},
          "layer": [
            {
              "data": {"name": "uptake"},
              "transform": [{"filter": "datum.time === '4 h'"}],
              "mark": {"type": "bar", "stroke": "#333333", "strokeWidth": 1},
              "encoding": {
                "x": {"field": "organ", "type": "nominal", "title": null,
                      "scale": {"domain": ["Blood","Brian","Heart","Lung","Liver","Spleen","Kidneys","Stomach","Small intestine","Colon","Muscle","Tumor"], "paddingInner": 0.2, "paddingOuter": 0.1},
                      "axis": {"labelAngle": -45}},
                "xOffset": {"field": "group", "type": "nominal", "scale": {"domain": ["¹¹¹In-DTPA","¹¹¹In-DTPA-G₁₈C","¹¹¹In-DTPA-CD166tp-C","¹¹¹In-DTPA-CD166tp-G₁₈C"], "paddingInner": 0.2}},
                "y": {"field": "mean", "type": "quantitative", "title": "Tissue uptake (%ID/g)", "scale": {"domain": [0, 15], "nice": false}, "axis": {"values": [0, 5, 10, 15]}},
                "color": {"field": "group", "type": "nominal"}
              }
            },
            {
              "data": {"name": "uptake"},
              "transform": [{"filter": "datum.time === '4 h'"}],
              "mark": {"type": "rule", "color": "#777777", "strokeWidth": 1.5},
              "encoding": {
                "x": {"field": "organ", "type": "nominal", "title": null},
                "xOffset": {"field": "group", "type": "nominal"},
                "y": {"field": "mean", "type": "quantitative", "title": "Tissue uptake (%ID/g)"},
                "y2": {"field": "upper"}
              }
            },
            {
              "data": {"name": "uptake"},
              "transform": [{"filter": "datum.time === '4 h'"}],
              "mark": {"type": "tick", "color": "#777777", "thickness": 1.5, "size": 4},
              "encoding": {
                "x": {"field": "organ", "type": "nominal", "title": null},
                "xOffset": {"field": "group", "type": "nominal"},
                "y": {"field": "upper", "type": "quantitative", "title": "Tissue uptake (%ID/g)"}
              }
            },
            {
              "data": {"name": "brackets"},
              "transform": [{"filter": "datum.time === '4 h'"}],
              "mark": {"type": "line", "color": "black", "strokeWidth": 2},
              "encoding": {
                "x": {"field": "organ", "type": "nominal", "title": null},
                "xOffset": {"field": "group", "type": "nominal"},
                "y": {"field": "level", "type": "quantitative", "title": "Tissue uptake (%ID/g)"},
                "detail": {"field": "seg"},
                "order": {"field": "seq", "type": "quantitative"}
              }
            },
            {
              "data": {"name": "stars"},
              "transform": [{"filter": "datum.time === '4 h'"}],
              "mark": {"type": "text", "font": "Liberation Sans", "fontSize": 32, "fontWeight": "bold", "color": "black", "baseline": "alphabetic", "dy": 9},
              "encoding": {
                "x": {"field": "organ", "type": "nominal", "title": null},
                "xOffset": {"field": "group", "type": "nominal"},
                "y": {"field": "level", "type": "quantitative", "title": "Tissue uptake (%ID/g)"},
                "text": {"field": "label"}
              }
            }
          ]
        }
      ]
    },
    {
      "bounds": "flush",
      "spacing": 85,
      "hconcat": [
        {
          "width": 538, "height": 228,
          "title": {"text": "24 h", "font": "Liberation Sans", "fontSize": 43, "fontWeight": "bold", "color": "black", "anchor": "middle", "frame": "group", "baseline": "alphabetic", "dx": -50, "offset": -128},
          "layer": [
            {
              "data": {"name": "uptake"},
              "transform": [{"filter": "datum.time === '24 h'"}],
              "mark": {"type": "bar", "stroke": "#333333", "strokeWidth": 1},
              "encoding": {
                "x": {"field": "organ", "type": "nominal", "title": null,
                      "scale": {"domain": ["Blood","Brian","Heart","Lung","Liver","Spleen","Kidneys","Stomach","Small intestine","Colon","Muscle","Tumor"], "paddingInner": 0.2, "paddingOuter": 0.1},
                      "axis": {"labelAngle": -45}},
                "xOffset": {"field": "group", "type": "nominal", "scale": {"domain": ["¹¹¹In-DTPA","¹¹¹In-DTPA-G₁₈C","¹¹¹In-DTPA-CD166tp-C","¹¹¹In-DTPA-CD166tp-G₁₈C"], "paddingInner": 0.2}},
                "y": {"field": "mean", "type": "quantitative", "title": "Tissue uptake (%ID/g)", "scale": {"domain": [0, 15], "nice": false}, "axis": {"values": [0, 5, 10, 15]}},
                "color": {"field": "group", "type": "nominal"}
              }
            },
            {
              "data": {"name": "uptake"},
              "transform": [{"filter": "datum.time === '24 h'"}],
              "mark": {"type": "rule", "color": "#777777", "strokeWidth": 1.5},
              "encoding": {
                "x": {"field": "organ", "type": "nominal", "title": null},
                "xOffset": {"field": "group", "type": "nominal"},
                "y": {"field": "mean", "type": "quantitative", "title": "Tissue uptake (%ID/g)"},
                "y2": {"field": "upper"}
              }
            },
            {
              "data": {"name": "uptake"},
              "transform": [{"filter": "datum.time === '24 h'"}],
              "mark": {"type": "tick", "color": "#777777", "thickness": 1.5, "size": 4},
              "encoding": {
                "x": {"field": "organ", "type": "nominal", "title": null},
                "xOffset": {"field": "group", "type": "nominal"},
                "y": {"field": "upper", "type": "quantitative", "title": "Tissue uptake (%ID/g)"}
              }
            },
            {
              "data": {"name": "brackets"},
              "transform": [{"filter": "datum.time === '24 h'"}],
              "mark": {"type": "line", "color": "black", "strokeWidth": 2},
              "encoding": {
                "x": {"field": "organ", "type": "nominal", "title": null},
                "xOffset": {"field": "group", "type": "nominal"},
                "y": {"field": "level", "type": "quantitative", "title": "Tissue uptake (%ID/g)"},
                "detail": {"field": "seg"},
                "order": {"field": "seq", "type": "quantitative"}
              }
            },
            {
              "data": {"name": "stars"},
              "transform": [{"filter": "datum.time === '24 h'"}],
              "mark": {"type": "text", "font": "Liberation Sans", "fontSize": 32, "fontWeight": "bold", "color": "black", "baseline": "alphabetic", "dy": 9},
              "encoding": {
                "x": {"field": "organ", "type": "nominal", "title": null},
                "xOffset": {"field": "group", "type": "nominal"},
                "y": {"field": "level", "type": "quantitative", "title": "Tissue uptake (%ID/g)"},
                "text": {"field": "label"}
              }
            }
          ]
        },
        {
          "width": 530, "height": 229,
          "title": {"text": "48 h", "font": "Liberation Sans", "fontSize": 43, "fontWeight": "bold", "color": "black", "anchor": "middle", "frame": "group", "baseline": "alphabetic", "dx": 0, "offset": -121},
          "layer": [
            {
              "data": {"name": "uptake"},
              "transform": [{"filter": "datum.time === '48 h'"}],
              "mark": {"type": "bar", "stroke": "#333333", "strokeWidth": 1},
              "encoding": {
                "x": {"field": "organ", "type": "nominal", "title": null,
                      "scale": {"domain": ["Blood","Brian","Heart","Lung","Liver","Spleen","Kidneys","Stomach","Small intestine","Colon","Muscle","Tumor"], "paddingInner": 0.2, "paddingOuter": 0.1},
                      "axis": {"labelAngle": -45}},
                "xOffset": {"field": "group", "type": "nominal", "scale": {"domain": ["¹¹¹In-DTPA","¹¹¹In-DTPA-G₁₈C","¹¹¹In-DTPA-CD166tp-C","¹¹¹In-DTPA-CD166tp-G₁₈C"], "paddingInner": 0.2}},
                "y": {"field": "mean", "type": "quantitative", "title": "Tissue uptake (%ID/g)", "scale": {"domain": [0, 15], "nice": false}, "axis": {"values": [0, 5, 10, 15]}},
                "color": {"field": "group", "type": "nominal"}
              }
            },
            {
              "data": {"name": "uptake"},
              "transform": [{"filter": "datum.time === '48 h'"}],
              "mark": {"type": "rule", "color": "#777777", "strokeWidth": 1.5},
              "encoding": {
                "x": {"field": "organ", "type": "nominal", "title": null},
                "xOffset": {"field": "group", "type": "nominal"},
                "y": {"field": "mean", "type": "quantitative", "title": "Tissue uptake (%ID/g)"},
                "y2": {"field": "upper"}
              }
            },
            {
              "data": {"name": "uptake"},
              "transform": [{"filter": "datum.time === '48 h'"}],
              "mark": {"type": "tick", "color": "#777777", "thickness": 1.5, "size": 4},
              "encoding": {
                "x": {"field": "organ", "type": "nominal", "title": null},
                "xOffset": {"field": "group", "type": "nominal"},
                "y": {"field": "upper", "type": "quantitative", "title": "Tissue uptake (%ID/g)"}
              }
            },
            {
              "data": {"name": "brackets"},
              "transform": [{"filter": "datum.time === '48 h'"}],
              "mark": {"type": "line", "color": "black", "strokeWidth": 2},
              "encoding": {
                "x": {"field": "organ", "type": "nominal", "title": null},
                "xOffset": {"field": "group", "type": "nominal"},
                "y": {"field": "level", "type": "quantitative", "title": "Tissue uptake (%ID/g)"},
                "detail": {"field": "seg"},
                "order": {"field": "seq", "type": "quantitative"}
              }
            },
            {
              "data": {"name": "stars"},
              "transform": [{"filter": "datum.time === '48 h'"}],
              "mark": {"type": "text", "font": "Liberation Sans", "fontSize": 32, "fontWeight": "bold", "color": "black", "baseline": "alphabetic", "dy": 9},
              "encoding": {
                "x": {"field": "organ", "type": "nominal", "title": null},
                "xOffset": {"field": "group", "type": "nominal"},
                "y": {"field": "level", "type": "quantitative", "title": "Tissue uptake (%ID/g)"},
                "text": {"field": "label"}
              }
            }
          ]
        }
      ]
    }
  ],
  "config": {
    "font": "Liberation Sans",
    "view": {"stroke": null},
    "legend": {"strokeWidth": 2},
    "axis": {
      "grid": false,
      "domainColor": "black", "domainWidth": 2,
      "tickColor": "black", "tickWidth": 2, "tickSize": 6,
      "labelColor": "black", "labelFont": "Liberation Sans", "labelFontSize": 21, "labelFontWeight": "bold", "labelPadding": 2,
      "titleColor": "black", "titleFont": "Liberation Sans", "titleFontSize": 25, "titleFontWeight": "bold"
    },
    "axisX": {"labelFontSize": 23.5, "labelPadding": 4},
    "axisY": {"titlePadding": 9}
  }
}
